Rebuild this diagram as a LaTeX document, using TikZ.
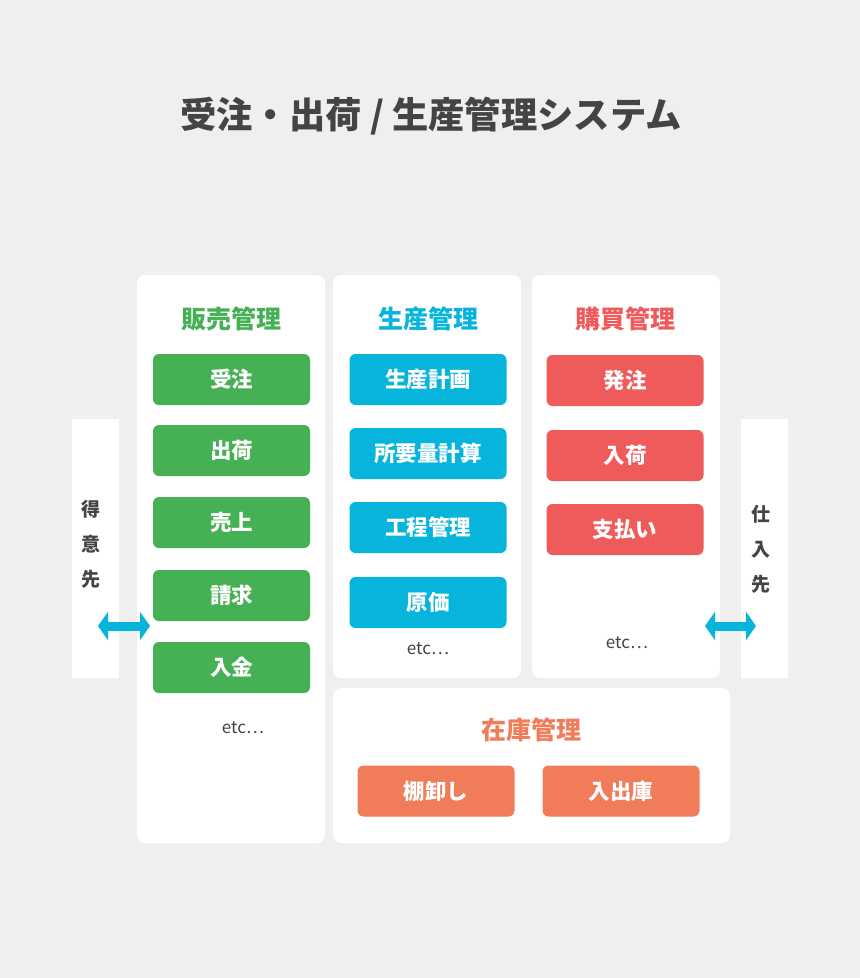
\documentclass[tikz,border=0pt]{standalone}
\usepackage{fontspec}
\setmainfont{Noto Sans CJK JP}
\usetikzlibrary{positioning, arrows.meta}
\definecolor{bg}{HTML}{EFEFEF}
\definecolor{ink}{HTML}{444444}
\definecolor{hanbai}{HTML}{46B055}
\definecolor{seisan}{HTML}{06B4DC}
\definecolor{kobai}{HTML}{EF5A5A}
\definecolor{zaiko}{HTML}{F07C5A}
\tikzset{x=1pt, y=-1pt,
panel/.style={fill=white, rounded corners=8pt, inner sep=0pt},
strip/.style={fill=white, inner sep=0pt, minimum width=47pt, minimum height=259pt},
btn/.style={fill=#1, text=white, rounded corners=6pt, minimum width=157pt, minimum height=51pt, font=\bfseries\fontsize{21.5}{24}\selectfont},
head/.style={text=#1, font=\bfseries\fontsize{25}{30}\selectfont},
etc/.style={text=ink, font=\fontsize{17}{20}\selectfont},
side/.style={text=ink, align=center, font=\bfseries\fontsize{19}{35}\selectfont},
dblarrow/.style={seisan, line width=9pt, {Triangle[length=10pt,width=28pt]}-{Triangle[length=10pt,width=28pt]}},
}

\begin{document}
\begin{tikzpicture}
    \fill[bg] (0,0) rectangle (860,978);
    \useasboundingbox (0,0) rectangle (860,978);

    \node[text=ink, font=\bfseries\fontsize{36.3}{40}\selectfont] (title) at (431,116) {受注・出荷 / 生産管理システム};

    % panels
    \node[panel, minimum width=188pt, minimum height=568pt] (sales) at (231,559) {};
    \node[panel, minimum width=188pt, minimum height=403pt] (prod) at (427,476.5) {};
    \node[panel, minimum width=188pt, minimum height=403pt] (purch) at (626,476.5) {};
    \node[panel, minimum width=397pt, minimum height=155pt] (inv) at (531.5,765.5) {};
    \node[strip] (cust) at (95.5,548.5) {};
    \node[strip] (supp) at (764.5,548.5) {};

    \node[side] (custtext) at (91,544) {得\\意\\先};
    \node[side] (supptext) at (761,549) {仕\\入\\先};

    % sales
    \node[head=hanbai] (sh) at (231,319) {販売管理};
    \node[btn=hanbai] (s1) at (231.5,379.5) {受注};
    \node[btn=hanbai] (s2) at (231.5,450.5) {出荷};
    \node[btn=hanbai] (s3) at (231.5,522.5) {売上};
    \node[btn=hanbai] (s4) at (231.5,595.5) {請求};
    \node[btn=hanbai] (s5) at (231.5,667.5) {入金};
    \node[etc] (se) at (243,728) {etc…};

    % production
    \node[head=seisan] (ph) at (428,319) {生産管理};
    \node[btn=seisan] (p1) at (428,379.5) {生産計画};
    \node[btn=seisan] (p2) at (428,453.5) {所要量計算};
    \node[btn=seisan] (p3) at (428,527.5) {工程管理};
    \node[btn=seisan] (p4) at (428,602.5) {原価};
    \node[etc] (pe) at (428,649) {etc…};

    % purchasing
    \node[head=kobai] (bh) at (625,319) {購買管理};
    \node[btn=kobai] (b1) at (625,380.5) {発注};
    \node[btn=kobai] (b2) at (625,455.5) {入荷};
    \node[btn=kobai] (b3) at (625,529.5) {支払い};
    \node[etc] (be) at (627,643) {etc…};

    % inventory
    \node[head=zaiko] (zh) at (531,730) {在庫管理};
    \node[btn=zaiko] (z1) at (436,791) {棚卸し};
    \node[btn=zaiko] (z2) at (621,791) {入出庫};

    % arrows
    \coordinate (l1) at (98,626);
    \coordinate (l2) at (150,626);
    \coordinate (r1) at (705,626);
    \coordinate (r2) at (756,626);
    \draw[dblarrow] (l1) -- (l2);
    \draw[dblarrow] (r1) -- (r2);
\end{tikzpicture}
\end{document}
